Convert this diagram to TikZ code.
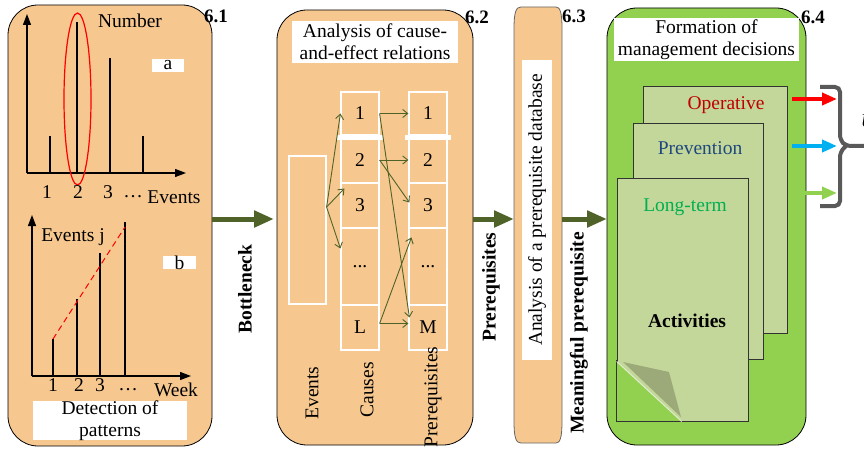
\documentclass[tikz,border=0pt]{standalone}
\usepackage{fontspec}
\setmainfont{Liberation Serif}
\usetikzlibrary{arrows.meta,calc}
\definecolor{peach}{HTML}{F6C890}
\definecolor{leaf}{HTML}{92D050}
\definecolor{sheet}{HTML}{C4D79B}
\definecolor{fold}{HTML}{9BAA78}
\definecolor{olive}{HTML}{4F6228}
\definecolor{opred}{HTML}{C00000}
\definecolor{prevblue}{HTML}{1F497D}
\definecolor{ltgreen}{HTML}{00B050}
\definecolor{skyblue}{HTML}{00B0F0}
\definecolor{bracegray}{HTML}{595959}
\tikzset{
  panel/.style={draw, line width=0.8pt, rounded corners=30pt, inner sep=0pt, outer sep=0pt},
  numtag/.style={font=\fontsize{19}{22}\selectfont\bfseries, inner sep=0pt},
  boldlabel/.style={font=\fontsize{19.5}{22}\selectfont\bfseries, rotate=90, inner sep=0pt},
  whitebox/.style={fill=white, inner sep=0pt, align=center},
  cell/.style={draw=white, line width=1.2pt, minimum width=38pt, inner sep=0pt},
  sheetbox/.style={draw=black!80, fill=sheet, line width=0.8pt, inner sep=0pt},
  bigarrow/.style={olive, line width=5pt, -{Triangle[length=20pt,width=16pt]}},
  link/.style={olive, line width=0.9pt, -{Straight Barb[length=5pt,width=8pt]}},
  chartaxis/.style={line width=1.3pt, -{Triangle[length=11pt,width=8pt]}},
  stick/.style={line width=1.3pt},
  outarrow/.style={line width=4pt, -{Triangle[length=15pt,width=12pt]}},
}
\begin{document}
\begin{tikzpicture}[x=1pt,y=-1pt,font=\fontsize{19.5}{22}\selectfont]
\useasboundingbox (0,0) rectangle (864,449);

\node[panel, fill=peach, minimum width=204pt, minimum height=441pt] (p1) at (110,225.5) {};
\node[panel, fill=peach, minimum width=196pt, minimum height=435pt] (p2) at (375,227.5) {};
\node[inner sep=0pt, outer sep=0pt, minimum width=48pt, minimum height=436pt] (p3) at (538,225) {};
\draw[fill=peach, draw=black!60, line width=0.8pt]
  (514,29) .. controls (514,12) and (516,7) .. (521,7) -- (556,7)
  .. controls (560,7) and (562,12) .. (562,29) -- (562,421)
  .. controls (562,438) and (560,443) .. (556,443) -- (521,443)
  .. controls (516,443) and (514,438) .. (514,421) -- cycle;
\node[panel, fill=leaf, minimum width=199pt, minimum height=437pt] (p4) at (706.5,226.5) {};

\node[numtag] (n1) at (216,16) {6.1};
\node[numtag] (n2) at (477,17) {6.2};
\node[numtag] (n3) at (574,16) {6.3};
\node[numtag] (n4) at (813,17) {6.4};

\draw[chartaxis] (27,173) -- (27,14);
\draw[chartaxis] (27,173) -- (186,173);
\draw[stick] (50,173) -- (50,136) (77,173) -- (77,22) (110,173) -- (110,58) (143,173) -- (143,136);
\draw[red, line width=1.2pt] (77.5,99) ellipse [x radius=13.5, y radius=86];
\node (na) at (130,21) {Number};
\node[whitebox, minimum width=32pt, minimum height=13pt] (ba) at (168,65.5) {a};
\node (xa1) at (47,192) {1};
\node (xa2) at (78,192) {2};
\node (xa3) at (108,192) {3};
\node (xad) at (133,197) {\dots};
\node (xae) at (174,197) {Events};

\draw[chartaxis] (32,376) -- (32,215);
\draw[chartaxis] (32,376) -- (191,376);
\draw[stick] (53,376) -- (53,339) (77,376) -- (77,299) (100,376) -- (100,253) (125,376) -- (125,222);
\draw[red, line width=1pt, dash pattern=on 6pt off 4pt] (53,339) -- (125,227);
\node (ej) at (73,237) {Events j};
\node[whitebox, minimum width=33pt, minimum height=13pt] (bb) at (179.5,262.5) {b};
\node (xb1) at (53,385) {1};
\node (xb2) at (79,385) {2};
\node (xb3) at (100,385) {3};
\node (xbd) at (128,390) {\dots};
\node (xbw) at (176,390) {Week};
\node[whitebox, minimum width=154pt, minimum height=39pt] (det) at (110,420.5) {Detection of\\patterns};

\node[whitebox, minimum width=166pt, minimum height=42pt] (t2) at (375,42) {Analysis of cause-\\and-effect relations};
\node[draw=white, line width=1.2pt, minimum width=37pt, minimum height=148pt, inner sep=0pt] (ev) at (307.5,230) {};
\node[cell, minimum height=43pt] (c1) at (360,113.5) {1};
\node[cell, minimum height=46pt] (c2) at (360,160) {2};
\node[cell, minimum height=45pt] (c3) at (360,205.5) {3};
\node[cell, minimum height=77pt] (cd) at (360,266.5) {...};
\node[cell, minimum height=45pt] (cL) at (360,327.5) {L};
\node[cell, minimum height=43pt] (r1) at (428,113.5) {1};
\node[cell, minimum height=46pt] (r2) at (428,160) {2};
\node[cell, minimum height=45pt] (r3) at (428,205.5) {3};
\node[cell, minimum height=77pt] (rd) at (428,266.5) {...};
\node[cell, minimum height=45pt] (rM) at (428,327.5) {M};
\draw[white, line width=5pt] ([xshift=-3pt,yshift=-2pt]c1.south west) -- ([xshift=3pt,yshift=-2pt]c1.south east);
\draw[white, line width=5pt] ([xshift=-3pt,yshift=-2pt]r1.south west) -- ([xshift=3pt,yshift=-2pt]r1.south east);
\node[rotate=90] (le) at (312,393) {Events};
\node[rotate=90] (lc) at (367,390) {Causes};
\node[rotate=90] (lp) at (433,397) {Prerequisites};

\coordinate (evp) at ([yshift=23pt]ev.east);
\draw[link] (evp) -- (c1.west);
\draw[link] (evp) -- ([xshift=4pt,yshift=17pt]c3.west);
\draw[link] (evp) -- ([yshift=18pt]cd.west);
\draw[link] (c1.east) -- (r1.west);
\draw[link] (c1.east) -- ([xshift=1pt,yshift=10pt]rM.west);
\draw[link] (c2.east) -- (r2.west);
\draw[link] (c2.east) -- ([xshift=1pt,yshift=3pt]r3.west);
\draw[link] ([yshift=4pt]cL.east) -- ([yshift=4pt]rM.west);
\draw[link] ([yshift=4pt]cL.east) -- ([xshift=3pt,yshift=-10pt]rd.north west);

\node[whitebox, rotate=90, minimum width=300pt, minimum height=30pt] (t3) at (537,210) {Analysis of a prerequisite database};

\coordinate (ay) at (0,219);
\draw[bigarrow, shorten >=3pt] (p1.east |- ay) -- (p2.west |- ay);
\draw[bigarrow] (p2.east |- ay) -- (p3.west |- ay);
\draw[bigarrow] (p3.east |- ay) -- (p4.west |- ay);
\node[boldlabel] (lb) at (245,289) {Bottleneck};
\node[boldlabel] (lpr) at (491,287) {Prerequisites};
\node[boldlabel] (lm) at (579,333) {Meaningful prerequisite};

\node[whitebox, minimum width=185pt, minimum height=43pt] (t4) at (706.5,39.5) {Formation of\\management decisions};
\node[sheetbox, minimum width=144pt, minimum height=247pt] (pg1) at (715,209.5) {};
\node[sheetbox, minimum width=130pt, minimum height=236pt] (pg2) at (698,241) {};
\node[sheetbox, minimum width=131pt, minimum height=243pt] (pg3) at (682.5,299.5) {};
\fill[leaf] ([yshift=60pt]pg3.south west) -- ([xshift=65pt]pg3.south west) -- (pg3.south west) -- cycle;
\draw[black!80, line width=0.8pt] ([yshift=61pt]pg3.south west) -- (pg3.south west) -- ([xshift=66pt]pg3.south west);
\fill[fold] (623,362) -- (669,372) -- (681,417) -- cycle;
\draw[sheet!50!white, line width=1pt] ([yshift=60pt]pg3.south west) -- ([xshift=65pt]pg3.south west);
\node[text=opred] (op) at (726,105) {Operative};
\node[text=prevblue] (pv) at (700,148) {Prevention};
\node[text=ltgreen] (lt) at (685,207) {Long-term};
\node[font=\fontsize{19.5}{22}\selectfont\bfseries] (act) at (687,321) {Activities};

\coordinate (br1) at (837,99);
\coordinate (br2) at (837,146);
\coordinate (br3) at (837,193);
\draw[outarrow, red] ($(p4.east |- br1)+(-14,0)$) -- (br1);
\draw[outarrow, skyblue] ($(p4.east |- br2)+(-14,0)$) -- (br2);
\draw[outarrow, leaf] ($(p4.east |- br3)+(-14,0)$) -- (br3);
\draw[bracegray, line width=4pt, rounded corners=5pt]
  (820,87) -- (840,87) -- (840,140) -- (846,146) -- (870,146)
  (846,146) -- (840,152) -- (840,206) -- (820,206);
\node[font=\fontsize{19.5}{22}\selectfont\itshape] (u) at (868,121) {U};
\end{tikzpicture}
\end{document}
